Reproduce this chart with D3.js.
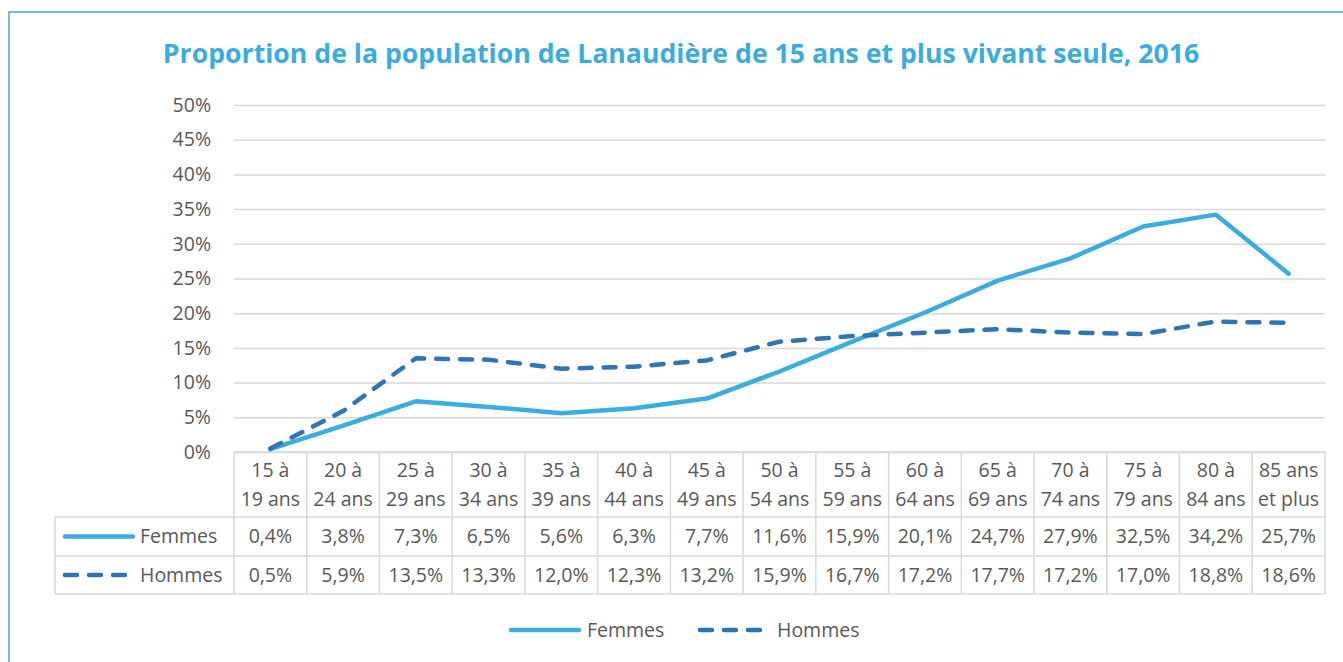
<!DOCTYPE html>
<html>
<head>
<meta charset="utf-8">
<script src="https://cdn.jsdelivr.net/npm/d3@7"></script>
<style>
    body { margin: 0; background: #fff; }
    text { font-family: "Open Sans", "Noto Sans", sans-serif; fill: #595959; }
    .title { font-weight: bold; fill: #3aace0; }
</style>
</head>
<body>
<script>
// data
var categories = ["15 à|19 ans", "20 à|24 ans", "25 à|29 ans", "30 à|34 ans", "35 à|39 ans",
    "40 à|44 ans", "45 à|49 ans", "50 à|54 ans", "55 à|59 ans", "60 à|64 ans",
    "65 à|69 ans", "70 à|74 ans", "75 à|79 ans", "80 à|84 ans", "85 ans|et plus"];
var femmes = [0.4, 3.8, 7.3, 6.5, 5.6, 6.3, 7.7, 11.6, 15.9, 20.1, 24.7, 27.9, 32.5, 34.2, 25.7];
var hommes = [0.5, 5.9, 13.5, 13.3, 12.0, 12.3, 13.2, 15.9, 16.7, 17.2, 17.7, 17.2, 17.0, 18.8, 18.6];
var yTicks = [0, 5, 10, 15, 20, 25, 30, 35, 40, 45, 50];
var series = [
    { name: "Femmes", values: femmes, colour: "#3aace0", dash: null },
    { name: "Hommes", values: hommes, colour: "#2e75b6", dash: "12,12" }
];

var width = 1343, height = 662;
var fontSize = "19.5px";
var svg = d3.select("body").append("svg")
    .attr("width", width)
    .attr("height", height);

// frame
svg.append("rect")
    .attr("x", 9).attr("y", 12)
    .attr("width", width + 20).attr("height", height + 20)
    .attr("fill", "none")
    .attr("stroke", "#3aace0")
    .attr("stroke-width", 1.5);

var title = svg.append("text")
    .attr("class", "title")
    .attr("x", 681)
    .attr("y", 63)
    .style("text-anchor", "middle")
    .style("font-size", "26px")
    .text("Proportion de la population de Lanaudière de 15 ans et plus vivant seule, 2016");
// fit title to the width of the original
var tw = title.node().getComputedTextLength();
title.style("font-size", (26 * 1037 / tw) + "px");

var plot = { left: 234, right: 1325, top: 105, bottom: 452 };
var tableLeft = 55;
var rowH = [452, 517, 556, 594];

var x = d3.scaleBand()
    .domain(categories)
    .range([plot.left, plot.right]);

var y = d3.scaleLinear()
    .domain([0, 50])
    .range([plot.bottom, plot.top]);

var fmt = v => d3.format(".1f")(v).replace(".", ",") + "%";

// gridlines + y labels
var yAxis = d3.axisLeft(y)
    .tickValues(yTicks)
    .tickSize(-(plot.right - plot.left))
    .tickPadding(23)
    .tickFormat(d => d + "%");

var gy = svg.append("g")
    .attr("transform", `translate(${plot.left},0)`)
    .call(yAxis);
gy.select(".domain").remove();
gy.selectAll(".tick line").attr("stroke", "#d9d9d9").attr("stroke-width", 1.5);
gy.selectAll(".tick text")
    .style("font-size", fontSize)
    .attr("fill", "#595959");

// data table
var grid = svg.append("g").attr("stroke", "#d9d9d9").attr("stroke-width", 1.5);
grid.append("line").attr("x1", plot.left).attr("x2", plot.right).attr("y1", rowH[0]).attr("y2", rowH[0]);
rowH.slice(1).forEach(r => {
    grid.append("line").attr("x1", tableLeft).attr("x2", plot.right).attr("y1", r).attr("y2", r);
});
categories.forEach(c => {
    grid.append("line").attr("x1", x(c)).attr("x2", x(c)).attr("y1", rowH[0]).attr("y2", rowH[3]);
});
grid.append("line").attr("x1", plot.right).attr("x2", plot.right).attr("y1", rowH[0]).attr("y2", rowH[3]);
grid.append("line").attr("x1", tableLeft).attr("x2", tableLeft).attr("y1", rowH[1]).attr("y2", rowH[3]);

var header = svg.selectAll("text.cat")
    .data(categories)
    .enter()
    .append("text")
    .attr("class", "cat")
    .attr("x", d => x(d) + x.bandwidth() / 2)
    .attr("y", 477)
    .style("text-anchor", "middle")
    .style("font-size", fontSize);
header.append("tspan").text(d => d.split("|")[0]);
header.append("tspan")
    .attr("x", d => x(d) + x.bandwidth() / 2)
    .attr("dy", 29)
    .text(d => d.split("|")[1]);

var baselines = [543, 582];
series.forEach((s, i) => {
    svg.selectAll("text.val" + i)
        .data(s.values)
        .enter()
        .append("text")
        .attr("class", "val" + i)
        .attr("x", (d, j) => x(categories[j]) + x.bandwidth() / 2)
        .attr("y", baselines[i])
        .style("text-anchor", "middle")
        .style("font-size", fontSize)
        .text(d => fmt(d));

    var ly = (rowH[i + 1] + rowH[i + 2]) / 2;
    svg.append("line")
        .attr("x1", 65).attr("x2", 133)
        .attr("y1", ly).attr("y2", ly)
        .attr("stroke", s.colour)
        .attr("stroke-width", 4.5)
        .attr("stroke-linecap", "round")
        .attr("stroke-dasharray", s.dash);
    svg.append("text")
        .attr("x", 140)
        .attr("y", baselines[i])
        .style("font-size", fontSize)
        .text(s.name);
});

// lines
var line = d3.line()
    .x((d, j) => x(categories[j]) + x.bandwidth() / 2)
    .y(d => y(d));

series.forEach(s => {
    svg.append("path")
        .datum(s.values)
        .attr("d", line)
        .attr("fill", "none")
        .attr("stroke", s.colour)
        .attr("stroke-width", 4.5)
        .attr("stroke-linecap", "round")
        .attr("stroke-linejoin", "round")
        .attr("stroke-dasharray", s.dash);
});

// bottom legend
var legendPos = [{ x1: 511, x2: 579, tx: 587 }, { x1: 700, x2: 763, tx: 777 }];
series.forEach((s, i) => {
    var p = legendPos[i];
    svg.append("line")
        .attr("x1", p.x1).attr("x2", p.x2)
        .attr("y1", 630).attr("y2", 630)
        .attr("stroke", s.colour)
        .attr("stroke-width", 4.5)
        .attr("stroke-linecap", "round")
        .attr("stroke-dasharray", s.dash);
    svg.append("text")
        .attr("x", p.tx)
        .attr("y", 637)
        .style("font-size", fontSize)
        .text(s.name);
});
</script>
</body>
</html>
